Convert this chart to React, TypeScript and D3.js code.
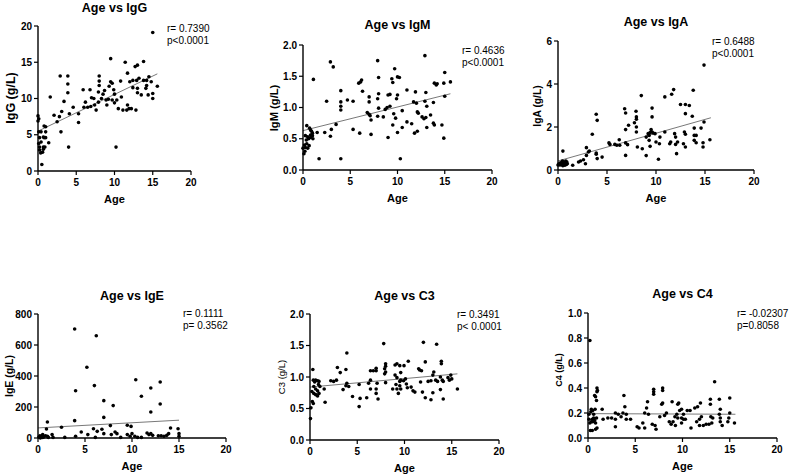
import React from "react";
import * as d3 from "d3";

type Pt = [number, number];

const titles = ["Age vs IgG", "Age vs IgM", "Age vs IgA", "Age vs IgE", "Age vs C3", "Age vs C4"];
const yLabels = ["IgG (g/L)", "IgM (g/L)", "IgA (g/L)", "IgE (g/L)", "C3 (g/L)", "C4 (g/L)"];
const rTexts = ["r= 0.7390", "r= 0.4636", "r= 0.6488", "r= 0.1111", "r= 0.3491", "r= -0.02307"];
const pTexts = ["p<0.0001", "p<0.0001", "p<0.0001", "p= 0.3562", "p< 0.0001", "p=0.8058"];
const xLabel = "Age";
const xTicks = [0, 5, 10, 15, 20];
const yTicksIgG = [0, 5, 10, 15, 20];
const yTicksIgM = [0, 0.5, 1.0, 1.5, 2.0];
const yTicksIgA = [0, 2, 4, 6];
const yTicksIgE = [0, 200, 400, 600, 800];
const yTicksC3 = [0, 0.5, 1.0, 1.5, 2.0];
const yTicksC4 = [0, 0.2, 0.4, 0.6, 0.8, 1.0];

const igG: Pt[] = [
  [15.0, 19.1], [9.5, 15.5], [11.4, 15.0], [2.9, 13.1], [3.9, 13.1], [3.9, 12.0], [3.9, 10.8], [1.6, 10.2],
  [3.4, 9.6], [3.1, 8.2], [2.1, 7.7], [2.8, 7.5], [2.5, 6.8], [4.1, 7.9], [4.6, 8.8], [5.3, 7.9], [5.3, 6.7],
  [3.0, 5.4], [4.0, 3.3], [10.2, 3.3], [0.5, 0.9],
  [0, 7.6], [0.1, 7.2], [0, 6.9], [0.1, 5.4], [0.4, 5.4], [0.7, 4.7], [0.2, 4.6], [0.8, 4.6], [1.0, 5.4],
  [1.0, 6.1], [0.8, 6.2], [0.4, 4.0], [0.1, 3.8], [0.2, 3.3], [0.7, 3.3], [0.2, 2.9], [0.6, 2.6], [0.7, 3.0],
  [0.35, 2.5], [0.9, 3.3], [1.0, 4.6], [1.4, 3.9],
  [5.9, 11.2], [6.8, 11.2], [6.2, 9.5], [7.0, 10.1], [6.0, 8.8], [6.5, 8.8], [6.9, 8.9], [7.3, 10.0], [7.4, 9.1],
  [7.6, 8.4], [7.9, 9.5], [7.9, 10.9], [8.0, 12.4], [8.0, 13.1], [8.0, 11.8], [8.3, 10.0], [8.5, 10.6],
  [8.7, 11.1], [8.9, 9.8], [9.0, 9.1], [9.2, 9.9], [9.3, 11.7], [9.5, 12.3], [9.7, 12.1], [9.9, 11.2],
  [9.7, 9.8], [10.0, 9.4], [10.3, 9.8], [10.5, 8.6], [10.0, 10.6],
  [10.9, 10.2], [11.1, 8.4], [11.6, 8.4], [11.7, 9.1], [11.9, 8.6], [12.2, 8.6], [11.7, 13.5], [12.0, 12.3],
  [12.4, 12.5], [12.7, 14.4], [13.0, 14.6], [12.9, 12.5], [13.0, 11.4], [13.0, 10.8], [12.8, 8.4], [13.5, 10.5],
  [13.8, 12.5], [13.8, 15.1], [14.1, 11.4], [14.2, 12.5], [14.2, 11.8], [14.5, 13.0], [14.8, 12.3], [15.0, 10.7],
  [15.0, 10.0], [15.6, 11.7], [13.2, 12.8], [14.4, 10.5], [12.4, 11.5], [10.8, 12.4],
];

const igM: Pt[] = [
  [12.9, 1.83], [7.9, 1.75], [2.9, 1.73], [3.2, 1.65], [9.7, 1.62], [15.0, 1.56], [1.1, 1.45], [6.1, 1.41],
  [5.9, 1.39], [6.2, 1.44], [8.0, 1.48], [10.0, 1.49], [10.2, 1.48], [9.4, 1.46], [9.5, 1.40], [13.9, 1.39],
  [14.1, 1.36], [14.2, 1.38], [14.9, 1.39], [15.6, 1.41], [4.0, 1.27], [6.3, 1.26], [11.0, 1.28], [11.9, 1.25],
  [13.0, 1.24], [15.0, 1.18], [7.0, 1.17], [7.0, 1.09], [8.0, 1.22], [7.9, 1.14], [9.0, 1.2], [9.2, 1.21],
  [10.0, 1.2], [9.9, 1.14], [2.5, 1.10], [4.0, 1.09], [4.0, 1.02], [4.0, 0.96], [4.7, 1.12], [5.3, 1.10],
  [11.7, 1.09], [12.0, 1.07], [12.9, 1.10], [13.1, 1.02], [13.8, 1.08], [6.8, 0.92], [7.0, 0.89], [7.1, 0.87],
  [7.2, 0.80], [8.0, 0.99], [7.9, 0.86], [8.7, 0.97], [8.9, 1.0], [9.2, 1.02], [8.5, 0.85], [9.6, 0.90],
  [9.8, 0.83], [9.5, 0.72], [10.5, 0.95], [11.0, 0.77], [11.5, 0.74], [12.1, 0.93], [12.2, 0.91], [12.6, 0.85],
  [12.8, 0.82], [13.0, 0.84], [13.5, 0.88], [13.1, 0.68], [13.8, 0.75], [13.9, 0.72], [14.7, 0.72], [14.9, 0.51],
  [3.5, 0.73], [3.0, 0.65], [2.9, 0.54], [5.3, 0.65], [6.0, 0.59], [7.2, 0.57], [9.0, 0.52], [10.0, 0.60],
  [10.5, 0.68], [11.8, 0.59], [12.1, 0.62], [1.7, 0.18], [4.0, 0.18], [10.3, 0.18], [2.3, 0.60], [1.5, 0.60],
  [0.4, 0.71], [0.8, 0.64], [0.7, 0.67], [0.25, 0.55], [0.5, 0.53], [0.8, 0.56], [1.0, 0.55], [1.0, 0.59],
  [0.35, 0.48], [0.6, 0.50], [0.8, 0.52], [0.15, 0.40], [0.4, 0.42], [0.65, 0.39], [0.25, 0.36], [0.5, 0.35],
  [0.2, 0.30], [0.1, 0.26], [0, 0.35], [1.05, 0.50], [0.9, 0.62],
];

const igA: Pt[] = [
  [14.9, 4.88], [11.8, 3.74], [11.6, 3.52], [10.9, 3.40], [13.8, 3.71], [8.5, 3.46], [12.5, 3.05], [13.0, 3.05],
  [13.4, 3.0], [13.0, 2.62], [13.7, 2.5], [6.8, 2.85], [6.9, 2.65], [7.2, 2.08], [7.96, 2.73], [8.0, 2.47],
  [8.0, 2.36], [7.8, 2.2], [8.0, 2.0], [6.9, 1.88], [8.0, 1.77], [9.6, 2.88], [9.6, 2.47], [3.9, 2.59],
  [4.0, 2.31], [3.5, 1.66], [13.9, 1.95], [14.6, 1.95], [14.9, 2.23], [11.9, 1.69], [12.0, 1.53], [12.9, 1.77],
  [13.0, 1.66], [13.9, 1.61], [14.1, 1.61], [13.9, 1.38], [14.1, 1.27], [14.8, 1.27], [14.8, 1.07], [15.5, 1.41],
  [9.2, 1.69], [9.4, 1.74], [9.6, 1.77], [9.7, 1.72], [9.9, 1.69], [9.5, 1.88], [9.0, 1.53], [9.3, 1.61],
  [10.4, 1.53], [10.0, 1.30], [10.35, 1.22], [9.3, 1.38], [9.4, 1.1], [10.9, 1.77], [11.5, 1.30], [11.4, 1.22],
  [12.0, 1.19], [12.2, 1.30], [12.8, 1.22], [13.0, 1.07], [12.1, 0.76], [10.25, 0.5], [9.0, 0.67], [8.6, 0.99],
  [8.1, 1.07], [6.9, 1.26], [7.1, 1.18], [6.9, 0.68], [6.25, 1.41], [6.3, 1.15], [6.0, 1.15], [5.8, 1.19],
  [5.2, 1.26], [5.3, 1.19], [4.5, 0.6], [4.0, 0.53], [3.9, 0.79], [3.9, 0.73], [3.2, 0.88], [2.9, 1.04],
  [3.1, 0.84], [2.9, 0.68], [2.8, 0.29], [2.6, 0.48], [2.3, 0.42], [2.1, 0.37], [1.5, 0.22], [0.5, 0.88],
  [0, 0.23], [0.2, 0.23], [0.35, 0.25], [0.45, 0.31], [0.6, 0.29], [0.7, 0.37], [0.8, 0.42], [0.9, 0.37],
  [0.85, 0.26], [0.1, 0.29], [0.25, 0.33], [0.5, 0.2], [0.7, 0.22], [0.95, 0.29], [0.45, 0.42],
];

const igE: Pt[] = [
  [3.9, 703], [6.2, 660], [5.2, 456], [4.0, 305], [6.0, 338], [10.4, 376], [12.0, 323], [13.0, 361],
  [11.0, 269], [7.0, 241], [8.0, 209], [13.0, 219], [12.0, 168], [7.0, 133], [3.9, 112], [1.0, 103],
  [2.5, 69], [0.9, 58], [5.9, 60], [6.8, 56], [7.7, 80], [9.5, 82], [9.9, 75], [14.1, 65], [14.9, 60],
  [4.6, 39], [5.3, 22], [6.3, 43], [7.0, 28], [7.8, 22], [8.2, 39], [8.4, 28], [8.8, 4], [9.5, 22],
  [9.8, 11], [10.0, 28], [10.3, 11], [10.6, 4], [11.0, 4], [11.6, 32], [11.8, 22], [12.0, 28], [12.2, 17],
  [12.8, 15], [13.1, 15], [13.4, 11], [13.7, 17], [13.9, 28], [15.0, 28], [15.0, 11], [4.0, 11], [2.85, 4],
  [1.5, 22], [1.6, 4], [6.1, 4], [0.1, 6], [0.2, 15], [0.35, 11], [0.5, 22], [0.6, 6], [0.8, 15], [1.0, 11],
  [0.5, 4], [0.25, 0], [1.1, 4],
];

const c3: Pt[] = [
  [7.8, 1.53], [12.0, 1.55], [13.4, 1.52], [3.9, 1.38], [10.4, 1.25], [12.2, 1.24], [13.9, 1.25], [13.9, 1.21],
  [8.0, 1.21], [8.0, 1.17], [7.9, 1.13], [9.0, 1.19], [9.2, 1.21], [9.5, 1.18], [9.95, 1.18], [7.0, 1.14],
  [7.0, 1.10], [6.4, 1.10], [6.7, 1.10], [2.9, 1.15], [3.2, 1.07], [3.8, 1.12], [11.5, 1.13], [11.6, 1.11],
  [11.8, 1.10], [13.1, 1.08], [13.0, 1.03], [8.0, 1.08], [7.9, 1.05], [9.6, 1.07], [8.0, 0.91], [9.0, 1.03],
  [9.2, 0.99], [9.5, 0.93], [9.6, 0.95], [9.9, 0.94], [10.1, 0.97], [10.2, 0.89], [10.3, 0.83], [10.7, 0.84],
  [10.9, 0.78], [11.1, 0.76], [9.1, 0.88], [9.2, 0.81], [9.5, 0.86], [9.6, 0.81], [8.75, 0.81], [9.35, 0.74],
  [7.1, 0.90], [7.0, 0.81], [7.0, 0.74], [7.2, 0.65], [6.4, 0.95], [6.2, 0.90], [6.4, 0.81], [5.2, 0.88],
  [6.0, 0.67], [5.3, 0.66], [5.2, 0.53], [4.5, 0.69], [3.9, 0.90], [3.8, 0.86], [4.1, 0.85], [3.5, 0.80],
  [2.8, 0.95], [2.5, 0.93], [2.2, 0.94], [1.6, 0.60], [1.5, 0.81], [11.7, 0.92], [11.9, 0.76], [12.2, 0.67],
  [12.8, 0.64], [13.0, 0.75], [12.5, 0.93], [12.8, 0.94], [13.3, 0.95], [13.5, 0.93], [13.8, 0.80], [14.1, 0.65],
  [13.8, 1.0], [14.0, 0.95], [14.1, 0.93], [14.6, 0.99], [14.75, 0.95], [14.9, 1.03], [15.0, 0.97], [15.6, 0.81],
  [0.05, 0.34], [0.1, 0.51], [0.25, 0.61], [0.35, 0.58], [0.3, 1.12], [0.35, 0.95], [0.5, 0.92], [0.6, 0.95],
  [0.8, 0.94], [0.95, 0.93], [0.4, 0.85], [0.6, 0.81], [0.8, 0.78], [0.95, 0.74], [0.4, 0.74], [0.6, 0.72],
  [0.8, 0.70], [0.9, 0.88], [0.2, 0.77], [1.05, 0.85],
];

const c4: Pt[] = [
  [0.2, 0.78], [13.4, 0.45], [0.95, 0.40], [1.0, 0.38], [0.95, 0.37], [0.7, 0.34], [0.8, 0.33], [6.95, 0.39],
  [6.95, 0.37], [7.9, 0.40], [7.9, 0.38], [6.95, 0.35], [3.8, 0.34], [13.9, 0.31], [15.0, 0.32], [12.95, 0.31],
  [12.95, 0.27], [0.9, 0.30], [6.3, 0.29], [7.9, 0.28], [7.8, 0.27], [8.9, 0.29], [9.6, 0.28], [9.5, 0.27],
  [11.9, 0.28], [14.0, 0.23], [0.35, 0.23], [0.5, 0.22], [0.75, 0.23], [1.5, 0.23], [3.9, 0.25], [6.2, 0.24],
  [9.9, 0.23], [9.7, 0.22], [10.5, 0.22], [10.8, 0.22], [11.3, 0.24], [11.6, 0.25], [10.1, 0.19], [6.0, 0.20],
  [6.4, 0.19], [3.7, 0.20], [4.05, 0.19], [3.2, 0.19], [2.9, 0.20], [2.1, 0.16], [2.5, 0.16], [1.6, 0.15],
  [2.9, 0.15], [3.5, 0.17], [4.05, 0.15], [4.5, 0.15], [5.2, 0.09], [5.4, 0.08], [5.8, 0.12], [6.0, 0.08],
  [6.8, 0.11], [7.1, 0.10], [7.2, 0.07], [2.9, 0.09], [8.6, 0.13], [8.8, 0.11], [9.0, 0.13], [9.2, 0.17],
  [9.4, 0.19], [9.5, 0.16], [9.9, 0.16], [9.25, 0.10], [10.1, 0.15], [10.3, 0.15], [9.9, 0.12], [10.9, 0.08],
  [11.5, 0.13], [11.8, 0.15], [12.0, 0.17], [11.8, 0.10], [12.2, 0.10], [12.5, 0.11], [12.8, 0.11], [13.1, 0.12],
  [13.0, 0.17], [13.2, 0.16], [14.0, 0.16], [14.0, 0.13], [14.2, 0.10], [13.9, 0.19], [14.8, 0.13], [14.9, 0.16],
  [15.0, 0.20], [15.5, 0.12], [8.1, 0.18], [8.3, 0.20], [7.6, 0.17],
  [0.1, 0.19], [0.1, 0.15], [0.2, 0.12], [0.25, 0.06], [0.45, 0.06], [0.35, 0.13], [0.5, 0.13], [0.6, 0.16],
  [0.7, 0.14], [0.8, 0.12], [0.6, 0.19], [0.9, 0.16], [0.8, 0.07], [0.45, 0.15], [0.3, 0.21], [0.95, 0.08],
];

const igGFit: Pt[] = [[0, 5.5], [15.6, 13.4]];
const igMFit: Pt[] = [[0, 0.63], [15.6, 1.22]];
const igAFit: Pt[] = [[0, 0.42], [15.6, 2.43]];
const igEFit: Pt[] = [[0, 65], [15, 115]];
const c3Fit: Pt[] = [[0, 0.84], [15.6, 1.05]];
const c4Fit: Pt[] = [[0, 0.195], [15.6, 0.19]];

const seriesList = [igG, igM, igA, igE, c3, c4];
const fitList = [igGFit, igMFit, igAFit, igEFit, c3Fit, c4Fit];
const yTickList = [yTicksIgG, yTicksIgM, yTicksIgA, yTicksIgE, yTicksC3, yTicksC4];
const yFormats = ["d", ".1f", "d", "d", ".1f", ".1f"];

// layout (pixel geometry)
const layout = [
  { x0: 38, x1: 191, yb: 171, yt: 26, titleY: 12, statX: 167, statY: 32, yl: [11, 98], ylSize: 12.5, ylWeight: "bold" },
  { x0: 303, x1: 492, yb: 170, yt: 45, titleY: 29, statX: 462, statY: 54, yl: [274, 108], ylSize: 11.2, ylWeight: "bold" },
  { x0: 558, x1: 754, yb: 170, yt: 41, titleY: 26, statX: 712, statY: 45, yl: [537, 106], ylSize: 10.3, ylWeight: "bold" },
  { x0: 38, x1: 226, yb: 438, yt: 314, titleY: 300, statX: 183, statY: 317, yl: [9, 376], ylSize: 10.5, ylWeight: "bold" },
  { x0: 310, x1: 499, yb: 440, yt: 314, titleY: 300, statX: 457, statY: 318, yl: [281, 377], ylSize: 9.5, ylWeight: "normal" },
  { x0: 588, x1: 777, yb: 438, yt: 313, titleY: 298, statX: 737, statY: 317, yl: [559, 370], ylSize: 9, ylWeight: "bold" },
];

const FONT = "Arial, 'Liberation Sans', Helvetica, sans-serif";

function Panel({ i }: { i: number }) {
  const L = layout[i];
  const yTicks = yTickList[i];
  const x = d3.scaleLinear().domain([0, 20]).range([L.x0, L.x1]);
  const y = d3.scaleLinear().domain([0, yTicks[yTicks.length - 1]]).range([L.yb, L.yt]);
  const fmt = d3.format(yFormats[i]);
  const line = d3.line<Pt>().x((d) => x(d[0])).y((d) => y(d[1]));
  const cx = (L.x0 + L.x1) / 2;
  return (
    <g fontFamily={FONT}>
      <text x={cx} y={L.titleY} textAnchor="middle" fontSize={12.5} fontWeight="bold">{titles[i]}</text>
      <text x={L.statX} y={L.statY} fontSize={10}>{rTexts[i]}</text>
      <text x={L.statX} y={L.statY + 11.5} fontSize={10}>{pTexts[i]}</text>
      <path d={line(fitList[i]) || ""} stroke="#555" strokeWidth={0.8} fill="none" />
      {seriesList[i].map((d, k) => (
        <circle key={k} cx={x(d[0])} cy={y(d[1])} r={1.8} fill="#000" />
      ))}
      <line x1={L.x0} x2={L.x0} y1={L.yt} y2={L.yb} stroke="#000" strokeWidth={1.4} />
      <line x1={L.x0} x2={L.x1} y1={L.yb} y2={L.yb} stroke="#000" strokeWidth={1.4} />
      {yTicks.map((t) => (
        <g key={"y" + t}>
          <line x1={L.x0 - 4} x2={L.x0} y1={y(t)} y2={y(t)} stroke="#000" strokeWidth={1.2} />
          <text x={L.x0 - 6} y={y(t) + 3.5} textAnchor="end" fontSize={10} fontWeight="bold">{fmt(t)}</text>
        </g>
      ))}
      {xTicks.map((t) => (
        <g key={"x" + t}>
          <line x1={x(t)} x2={x(t)} y1={L.yb} y2={L.yb + 4} stroke="#000" strokeWidth={1.2} />
          <text x={x(t)} y={L.yb + 15} textAnchor="middle" fontSize={10} fontWeight="bold">{t}</text>
        </g>
      ))}
      <text x={cx} y={L.yb + 32} textAnchor="middle" fontSize={11} fontWeight="bold">{xLabel}</text>
      <text
        transform={`translate(${L.yl[0]},${L.yl[1]}) rotate(-90)`}
        textAnchor="middle"
        dominantBaseline="central"
        fontSize={L.ylSize}
        fontWeight={L.ylWeight}
      >
        {yLabels[i]}
      </text>
    </g>
  );
}

export default function App() {
  return (
    <svg width={791} height={475} style={{ position: "absolute", left: 0, top: 0, background: "#fff" }}>
      {layout.map((_, i) => (
        <Panel key={i} i={i} />
      ))}
    </svg>
  );
}
